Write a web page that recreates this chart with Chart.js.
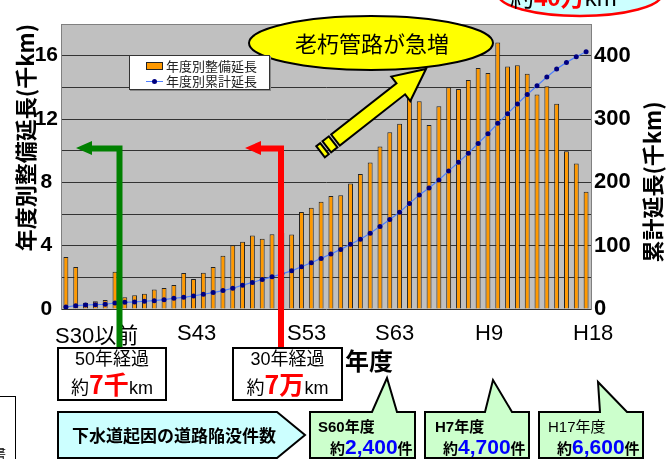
<!DOCTYPE html>
<html>
<head>
<meta charset="utf-8">
<script src="https://cdn.jsdelivr.net/npm/chart.js@4.4.0/dist/chart.umd.min.js"></script>
<style>
  body { margin: 0; background: #fff; }
  #wrap { position: relative; width: 666px; height: 459px; overflow: hidden;
          font-family: "Liberation Sans", "Noto Sans CJK JP", sans-serif; color: #000; }
  #chart { position: absolute; left: 0; top: 0; z-index: 0; }
  #shapes { position: absolute; left: 0; top: 0; z-index: 2; }
  .t { position: absolute; white-space: nowrap; line-height: 1; z-index: 3; }
  .xl { position: absolute; white-space: nowrap; line-height: 1; z-index: 1; font-size: 22px; }
  .jp { font-family: "Noto Sans CJK JP", sans-serif; }
  .red { color: #ff0000; font-weight: bold; }
  .blue { color: #0000ff; font-weight: bold; }
  .box { position: absolute; box-sizing: border-box; border: 2px solid #000; background: #fff; z-index: 3;
         display: flex; flex-direction: column; align-items: center; justify-content: center; }
  #legend { position: absolute; left: 129px; top: 55px; width: 141px; height: 35px; box-sizing: border-box;
            background: #fff; border: 1px solid #333; box-shadow: 1px 1px 0 #888; z-index: 3;
            font-family: "Noto Sans CJK JP", sans-serif; font-size: 13px; color: #222; }
  #legend div { position: absolute; left: 16px; height: 14px; line-height: 14px; white-space: nowrap; }
  #legend i { position: absolute; left: 0; top: 3px; }
  #legend span { margin-left: 20px; }
  #rtitle { position: absolute; left: 651px; top: 182px; z-index: 1; white-space: nowrap; line-height: 1;
            font-family: "Noto Sans CJK JP", sans-serif; font-size: 22px; font-weight: bold;
            transform: translate(-50%, -50%) rotate(-90deg); }
</style>
</head>
<body>
<div id="wrap">
  <canvas id="chart" width="666" height="459"></canvas>
  <div id="xlabels"></div>
  <div id="rtitle"></div>
  <svg id="shapes" width="666" height="459">
    <!-- 上部の吹き出し(約40万km) -->
    <ellipse cx="580" cy="-6" rx="82" ry="22" fill="#ccffff" stroke="#ff0000" stroke-width="2.5"/>
    <!-- 老朽管路が急増 -->
    <ellipse cx="371" cy="43" rx="122" ry="27" fill="#ffff00" stroke="#000" stroke-width="2"/>
    <polygon points="426,69 410.3,101 405.1,94.3 339.8,145.5 331.2,134.5 396.5,83.3 391.3,76.6"
             fill="#ffff00" stroke="#000" stroke-width="2" stroke-linejoin="miter"/>
    <polygon points="328.85,136.32 337.43,147.38 331.13,152.32 322.55,141.26" fill="#ffff00" stroke="#000" stroke-width="2"/>
    <polygon points="320.19,143.11 328.77,154.17 324.84,157.25 316.26,146.19" fill="#ffff00" stroke="#000" stroke-width="2"/>
    <!-- 50年経過 / 30年経過 の矢印 -->
    <polygon points="76,148 92,141 92,145.5 116.5,145.5 122.5,145.5 122.5,348 116.5,348 116.5,151.5 92,151.5 92,155" fill="#008000"/>
    <polygon points="245,148 261,141 261,145.5 278,145.5 284,145.5 284,348 278,348 278,151.5 261,151.5 261,155" fill="#ff0000"/>
    <!-- 下水道起因の道路陥没件数 -->
    <polygon points="58,412 277,412 305,435 277,458 58,458" fill="#ccffff" stroke="#000" stroke-width="2"/>
    <path d="M310,412 L372,412 L387,378 L397,412 L415,412 L415,458 L310,458 Z" fill="#ccffcc" stroke="#000" stroke-width="2"/>
    <path d="M425,412 L485,412 L493,380 L512,412 L529,412 L529,458 L425,458 Z" fill="#ccffcc" stroke="#000" stroke-width="2"/>
    <path d="M539,412 L600,412 L598,382 L627,412 L643,412 L643,458 L539,458 Z" fill="#ccffcc" stroke="#000" stroke-width="2"/>
  </svg>

  <div class="t" style="left:510px; top:-16px; font-size:24px;"><span class="jp">約</span><span class="red">40万</span>km</div>
  <div class="t jp" style="left:295px; top:31px; font-size:22px;">老朽管路が急増</div>

  <div id="legend"></div>

  <div class="box" style="left:57px; top:347px; width:110px; height:54px;">
    <div style="font-size:18px; line-height:21px;">50<span class="jp">年経過</span></div>
    <div style="font-size:18px; line-height:27px;"><span class="jp">約</span><span class="red jp" style="font-size:25px;">7千</span>km</div>
  </div>
  <div class="box" style="left:232px; top:347px; width:111px; height:54px;">
    <div style="font-size:18px; line-height:21px;">30<span class="jp">年経過</span></div>
    <div style="font-size:18px; line-height:27px;"><span class="jp">約</span><span class="red jp" style="font-size:25px;">7万</span>km</div>
  </div>
  <div class="t jp" style="left:345px; top:348px; font-size:24px; font-weight:bold;">年度</div>

  <div class="t jp" style="left:72px; top:426px; font-size:17px; font-weight:bold;">下水道起因の道路陥没件数</div>

  <div class="t" style="left:318px; top:418px; font-size:15px; font-weight:bold;">S60<span class="jp">年度</span></div>
  <div class="t" style="left:330px; top:436px; font-size:15px; font-weight:bold;"><span class="jp">約</span><span class="blue" style="font-size:21px;">2,400</span><span class="jp">件</span></div>
  <div class="t" style="left:435px; top:418px; font-size:15px; font-weight:bold;">H7<span class="jp">年度</span></div>
  <div class="t" style="left:443px; top:436px; font-size:15px; font-weight:bold;"><span class="jp">約</span><span class="blue" style="font-size:21px;">4,700</span><span class="jp">件</span></div>
  <div class="t" style="left:548px; top:418px; font-size:15px;">H17<span class="jp">年度</span></div>
  <div class="t" style="left:557px; top:436px; font-size:15px; font-weight:bold;"><span class="jp">約</span><span class="blue" style="font-size:21px;">6,600</span><span class="jp">件</span></div>

  <div style="position:absolute; left:-2px; top:396px; width:16px; height:70px; border:1px solid #000; background:#fff; z-index:3;"></div>
  <div class="t jp" style="left:-7px; top:446px; font-size:13px;">書</div>
</div>

<script>
// 年度(カテゴリ)
const years = [
  'S28以前', 'S29', 'S30', 'S31', 'S32', 'S33', 'S34', 'S35', 'S36', 'S37',
  'S38', 'S39', 'S40', 'S41', 'S42', 'S43', 'S44', 'S45', 'S46', 'S47',
  'S48', 'S49', 'S50', 'S51', 'S52', 'S53', 'S54', 'S55', 'S56', 'S57',
  'S58', 'S59', 'S60', 'S61', 'S62', 'S63', 'H1', 'H2', 'H3', 'H4',
  'H5', 'H6', 'H7', 'H8', 'H9', 'H10', 'H11', 'H12', 'H13', 'H14',
  'H15', 'H16', 'H17', 'H18'
];

// 年度別整備延長 (千km)
const annualLength = [
  3.28, 2.65, 0.40, 0.49, 0.57, 2.35, 0.74, 0.87, 0.97, 1.23,
  1.33, 1.52, 2.27, 1.90, 2.29, 2.65, 3.37, 4.02, 4.25, 4.65,
  4.44, 4.72, 4.80, 4.70, 6.12, 6.39, 6.77, 7.13, 7.18, 7.92,
  8.53, 9.25, 10.27, 11.17, 11.70, 13.33, 13.12, 11.62, 12.81, 14.01,
  13.90, 14.46, 15.22, 14.90, 16.83, 15.32, 15.39, 14.86, 13.54, 14.07,
  12.97, 9.97, 9.19, 7.41
];

// 年度別累計延長 (千km)
const cumulativeLength = [
  3.2, 5.2, 6.3, 6.8, 7.5, 9.5, 10.6, 11.1, 12.2, 13.2,
  14.8, 17.0, 18.5, 20.6, 23.3, 25.9, 29.1, 32.8, 37.6, 41.8,
  46.5, 50.8, 55.5, 60.3, 66.7, 73.0, 79.9, 86.8, 94.1, 102.1,
  110.0, 119.5, 130.2, 141.3, 152.9, 166.7, 179.9, 191.0, 203.7, 218.0,
  231.7, 246.0, 261.4, 276.7, 293.2, 308.4, 323.8, 338.6, 352.4, 366.2,
  378.9, 389.4, 398.4, 406.3
];

// 軸の目盛ラベル
const xTickLabels = ['S30以前', 'S43', 'S53', 'S63', 'H9', 'H18'];
const leftTickValues = [0, 4, 8, 12, 16];
const rightTickValues = [0, 100, 200, 300, 400];
const leftTitle = '年度別整備延長(千km)';
const rightTitle = '累計延長(千km)';

// 横軸ラベルの配置 (元図ではテキストボックス)
const xLabelLeft = [55, 177, 287, 375, 475, 573];
const xl = document.getElementById('xlabels');
xTickLabels.forEach((txt, i) => {
  const d = document.createElement('div');
  d.className = 'xl';
  d.style.left = xLabelLeft[i] + 'px';
  d.style.top = '322px';
  d.innerHTML = txt.replace(/([^\x00-\x7f]+)/g, '<span class="jp">$1</span>');
  xl.appendChild(d);
});
// 右軸タイトルは左と同じく下から上へ読む向き
document.getElementById('rtitle').textContent = rightTitle;

// グレーの描画領域
const plotBg = {
  id: 'plotBg',
  beforeDraw(chart) {
    const { ctx, chartArea: a } = chart;
    ctx.save();
    ctx.fillStyle = '#c0c0c0';
    ctx.fillRect(a.left, a.top, a.right - a.left, a.bottom - a.top);
    ctx.restore();
  }
};

const tickFont = { family: '"Liberation Sans", Arial, sans-serif', size: 21, weight: 'bold' };
const titleFont = { family: '"Noto Sans CJK JP", sans-serif', size: 22, weight: 'bold' };

const chart = new Chart(document.getElementById('chart'), {
  type: 'bar',
  data: {
    labels: years,
    datasets: [
      {
        type: 'line',
        label: '年度別累計延長',
        data: cumulativeLength,
        yAxisID: 'y2',
        borderColor: '#4f7fff',
        borderWidth: 1.2,
        pointRadius: 2.5,
        pointBackgroundColor: '#000080',
        pointBorderColor: '#000080',
        pointBorderWidth: 0,
        tension: 0,
        order: 0
      },
      {
        label: '年度別整備延長',
        data: annualLength,
        yAxisID: 'y',
        backgroundColor: '#ff9900',
        borderColor: '#222',
        borderWidth: 1,
        categoryPercentage: 1,
        barPercentage: 0.5,
        order: 1
      }
    ]
  },
  options: {
    responsive: false,
    animation: false,
    devicePixelRatio: 1,
    layout: { padding: { top: 24 } },
    scales: {
      x: {
        grid: { display: false },
        ticks: { display: false },
        border: { display: false },
        afterFit(scale) { scale.height = 150; }
      },
      y: {
        position: 'left',
        min: 0,
        max: 18,
        ticks: {
          stepSize: 2,
          padding: 3,
          crossAlign: 'center',
          color: '#000',
          font: tickFont,
          callback: v => leftTickValues.includes(v) ? v : ''
        },
        grid: {
          drawTicks: false,
          color: c => c.tick.value === 18 ? '#808080' : '#333'
        },
        border: { color: '#808080' },
        title: {
          display: true,
          text: leftTitle,
          color: '#000',
          font: titleFont,
          align: 'end',
          padding: { top: 12 }
        },
        afterFit(scale) { scale.width = 61; }
      },
      y2: {
        position: 'right',
        min: 0,
        max: 450,
        ticks: {
          stepSize: 50,
          padding: 3,
          color: '#000',
          font: { family: '"Liberation Sans", Arial, sans-serif', size: 22, weight: 'bold' },
          callback: v => rightTickValues.includes(v) ? v : ''
        },
        grid: { display: false, drawTicks: false },
        border: { color: '#808080' },
        afterFit(scale) { scale.width = 75; }
      }
    },
    plugins: {
      legend: { display: false },
      tooltip: { enabled: false }
    }
  },
  plugins: [plotBg]
});

// 凡例 (グラフ内に重ねて配置)
const lg = document.getElementById('legend');
const barSet = chart.data.datasets[1];
const lineSet = chart.data.datasets[0];
lg.innerHTML =
  '<div style="top:3px"><i style="width:15px;height:6px;background:' + barSet.backgroundColor +
  ';border:1px solid #222;top:3px"></i><span>' + barSet.label + '</span></div>' +
  '<div style="top:18px"><i style="width:17px;height:1px;background:' + lineSet.borderColor +
  ';top:7px"></i><i style="width:5px;height:5px;border-radius:50%;background:#000080;left:6px;top:5px"></i><span>' +
  lineSet.label + '</span></div>';
</script>
</body>
</html>
